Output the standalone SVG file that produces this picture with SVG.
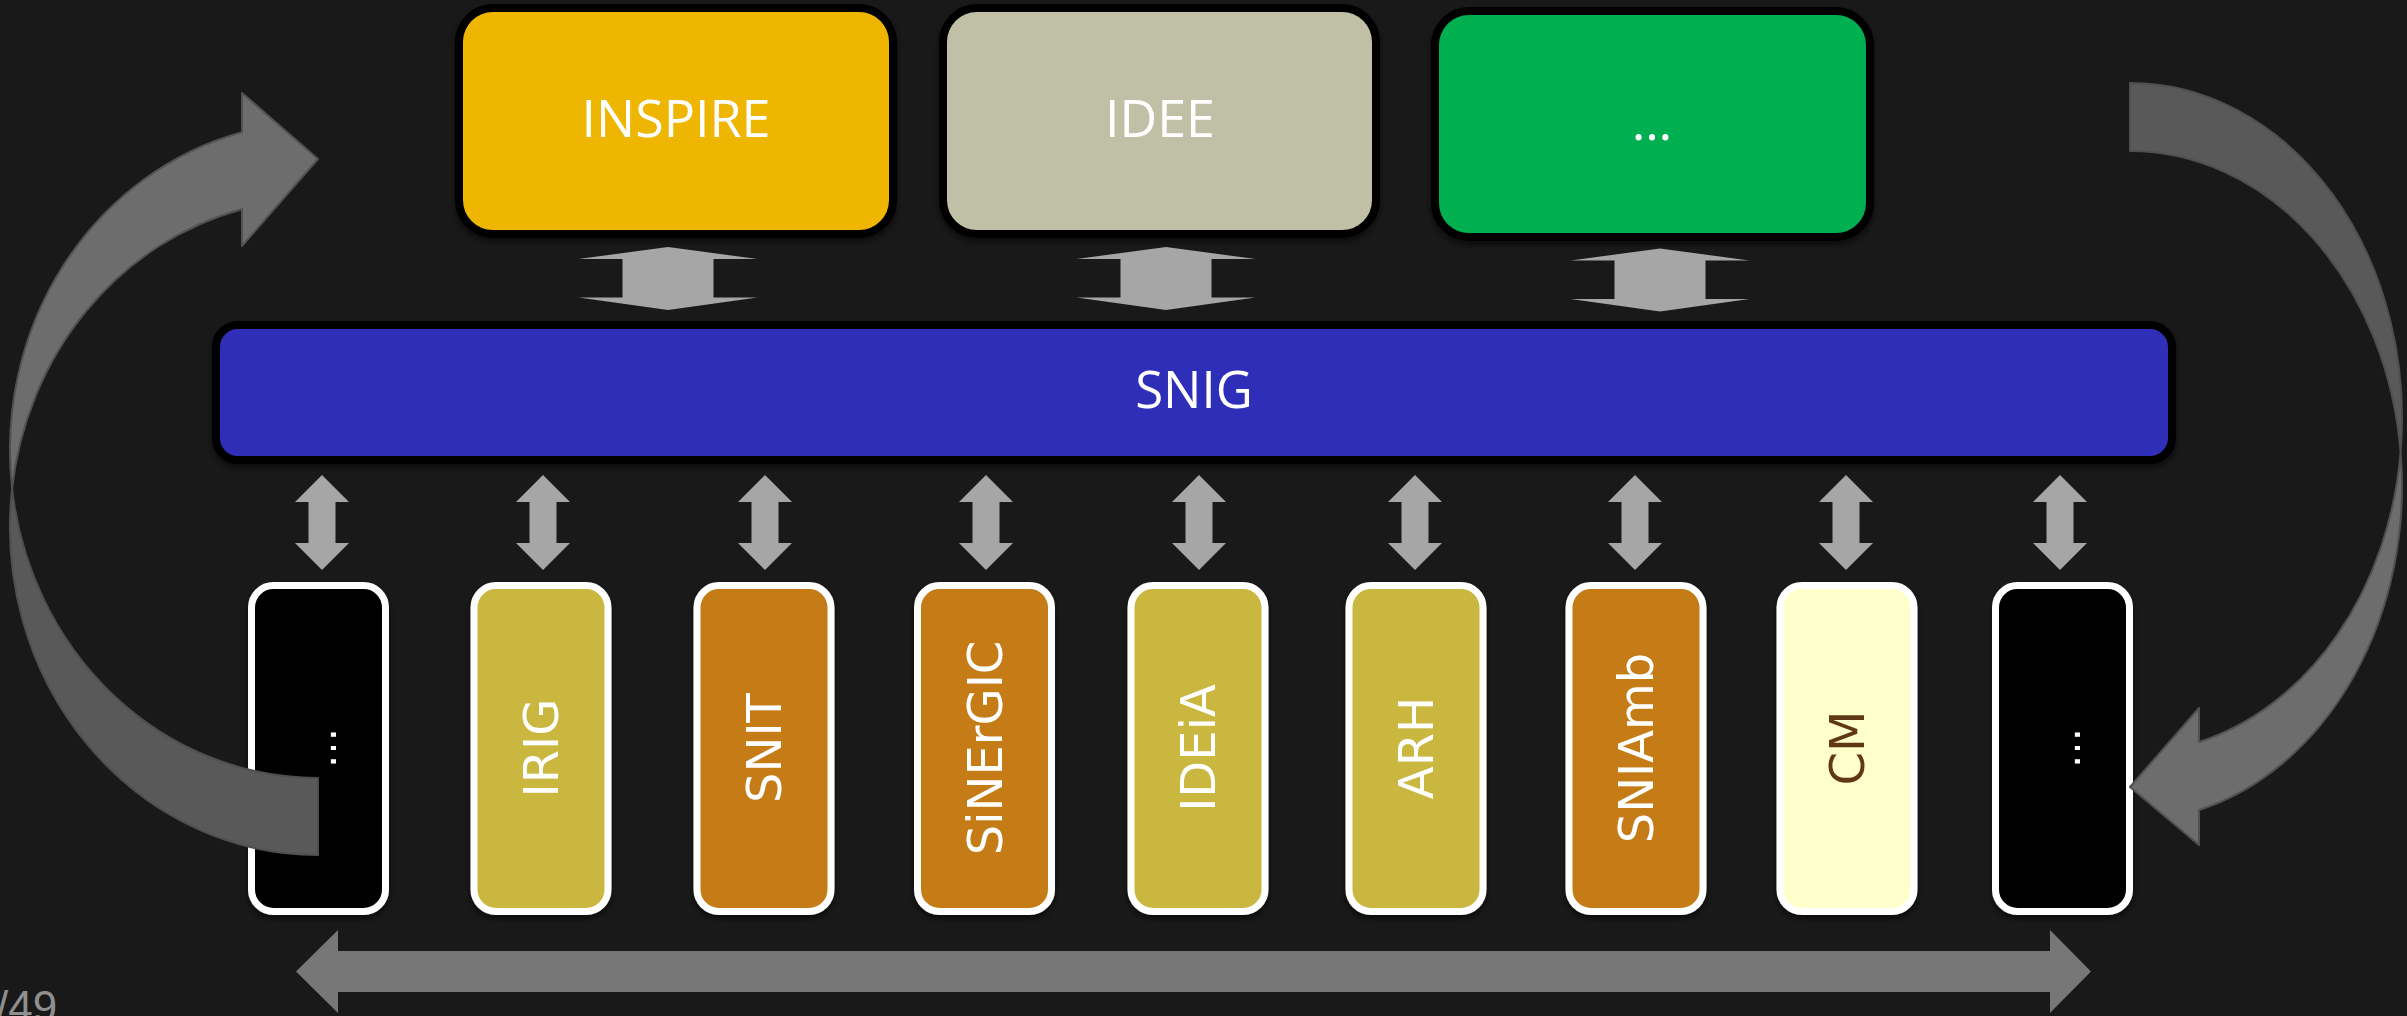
<svg xmlns="http://www.w3.org/2000/svg" width="2407" height="1016" viewBox="0 0 2407 1016">
<defs>
<style>
.top{stroke:#000;stroke-width:8}
.lbl{font-family:'Open Sans','Liberation Sans',sans-serif;font-size:52px;fill:#fff;text-anchor:middle}
.box{stroke:#fff;stroke-width:7}
.vl{font-family:'DejaVu Sans',Verdana,sans-serif;font-size:48px;fill:#fff;text-anchor:middle}
.dbl{fill:#A6A6A6}
.olive{fill:#CAB741}
.orange{fill:#C57B17}
.blk{fill:#000}
.light{fill:#6D6D6D;stroke:#515151;stroke-width:2;stroke-linejoin:round}
.dark{fill:#595959;stroke:#4F4F4F;stroke-width:2;stroke-linejoin:round}
</style>
<filter id="sh" x="-10%" y="-10%" width="120%" height="130%">
<feDropShadow dx="0" dy="4" stdDeviation="3" flood-color="#000" flood-opacity="0.55"/>
</filter>
<path id="va" d="M0,-47.5 L27,-20.5 L13.5,-20.5 L13.5,20.5 L27,20.5 L0,47.5 L-27,20.5 L-13.5,20.5 L-13.5,-20.5 L-27,-20.5 Z"/>
<path id="ha" d="M0,-31.5 L89.5,-19.5 L45.5,-19.5 L45.5,19 L89.5,19 L0,31.5 L-89.5,19 L-45.5,19 L-45.5,-19.5 L-89.5,-19.5 Z"/>
</defs>
<rect x="0" y="0" width="2407" height="1016" fill="#191919"/>

<g id="n-inspire" filter="url(#sh)">
<rect class="top" x="459" y="8" width="434" height="226" rx="34" fill="#EEB600"/>
<text class="lbl" x="676" y="137">INSPIRE</text>
</g>
<g id="n-idee" filter="url(#sh)">
<rect class="top" x="943" y="8" width="433" height="226" rx="34" fill="#C0C0A6"/>
<text class="lbl" x="1160" y="137">IDEE</text>
</g>
<g id="n-other-top" filter="url(#sh)">
<rect class="top" x="1435" y="11" width="435" height="226" rx="34" fill="#00AF50"/>
<text class="lbl" x="1652" y="140">…</text>
</g>

<g id="n-snig" filter="url(#sh)">
<rect class="top" x="216" y="325" width="1956" height="135" rx="22" fill="#2F2EB9"/>
<text class="lbl" x="1194" y="408" style="font-size:51px">SNIG</text>
</g>

<g id="n-dots-left" filter="url(#sh)">
<rect class="box blk" x="251.5" y="585.5" width="134" height="326" rx="22"/>
<text class="vl" transform="translate(335.5,748) rotate(-90)" style="font-size:40px">…</text>
</g>
<g id="n-irig" filter="url(#sh)">
<rect class="box olive" x="474" y="585.5" width="134" height="326" rx="22"/>
<text class="vl" transform="translate(558,748) rotate(-90)">IRIG</text>
</g>
<g id="n-snit" filter="url(#sh)">
<rect class="box orange" x="697" y="585.5" width="134" height="326" rx="22"/>
<text class="vl" transform="translate(781,748) rotate(-90)">SNIT</text>
</g>
<g id="n-sinergic" filter="url(#sh)">
<rect class="box orange" x="917.5" y="585.5" width="134" height="326" rx="22"/>
<text class="vl" transform="translate(1001.5,748) rotate(-90)">SiNErGIC</text>
</g>
<g id="n-ideia" filter="url(#sh)">
<rect class="box olive" x="1131" y="585.5" width="134" height="326" rx="22"/>
<text class="vl" transform="translate(1215,748) rotate(-90)">IDEiA</text>
</g>
<g id="n-arh" filter="url(#sh)">
<rect class="box olive" x="1349" y="585.5" width="134" height="326" rx="22"/>
<text class="vl" transform="translate(1433,748) rotate(-90)">ARH</text>
</g>
<g id="n-sniamb" filter="url(#sh)">
<rect class="box orange" x="1569" y="585.5" width="134" height="326" rx="22"/>
<text class="vl" transform="translate(1653,748) rotate(-90)">SNIAmb</text>
</g>
<g id="n-cm" filter="url(#sh)">
<rect class="box" x="1780" y="585.5" width="134" height="326" rx="22" fill="#FFFFCC"/>
<text class="vl" transform="translate(1864,748) rotate(-90)" style="fill:#603913">CM</text>
</g>
<g id="n-dots-right" filter="url(#sh)">
<rect class="box blk" x="1995.5" y="585.5" width="134" height="326" rx="22"/>
<text class="vl" transform="translate(2079.5,748) rotate(-90)" style="font-size:40px">…</text>
</g>

<g id="connectors">
<use href="#ha" class="dbl" transform="translate(668,278.5)"/>
<use href="#ha" class="dbl" transform="translate(1166,278.5)"/>
<use href="#ha" class="dbl" transform="translate(1660,280)"/>
<use href="#va" class="dbl" transform="translate(322,522.5)"/>
<use href="#va" class="dbl" transform="translate(543,522.5)"/>
<use href="#va" class="dbl" transform="translate(765,522.5)"/>
<use href="#va" class="dbl" transform="translate(986,522.5)"/>
<use href="#va" class="dbl" transform="translate(1199,522.5)"/>
<use href="#va" class="dbl" transform="translate(1415,522.5)"/>
<use href="#va" class="dbl" transform="translate(1635,522.5)"/>
<use href="#va" class="dbl" transform="translate(1846,522.5)"/>
<use href="#va" class="dbl" transform="translate(2060,522.5)"/>
<path class="dark" d="M12.1,488.5 A308,328 0 0 0 318,778 L318,855 A308,328 0 0 1 12.1,488.5 Z"/>
<path class="light" d="M12.1,488.5 A308,328 0 0 1 242,132.2 L242,93 L318,159 L242,246 L242,209.2 A308,328 0 0 0 12.1,488.5 Z"/>
<path class="dark" d="M2130,83 A272,335 0 0 1 2400.6,452 A272,335 0 0 0 2130,151 Z"/>
<path class="light" d="M2400.6,452 A272,335 0 0 1 2199,742 L2199,708 L2130,787 L2199,845 L2199,810 A272,335 0 0 0 2400.6,452 Z"/>
<path d="M296,971.5 L338,930 L338,951 L2050,951 L2050,930 L2091,971.5 L2050,1013 L2050,992 L338,992 L338,1013 Z" fill="#777777"/>
</g>

<text x="-4" y="1022" style="font-family:'Liberation Sans',sans-serif;font-size:44px;fill:#8F8F8F">/49</text>
</svg>
